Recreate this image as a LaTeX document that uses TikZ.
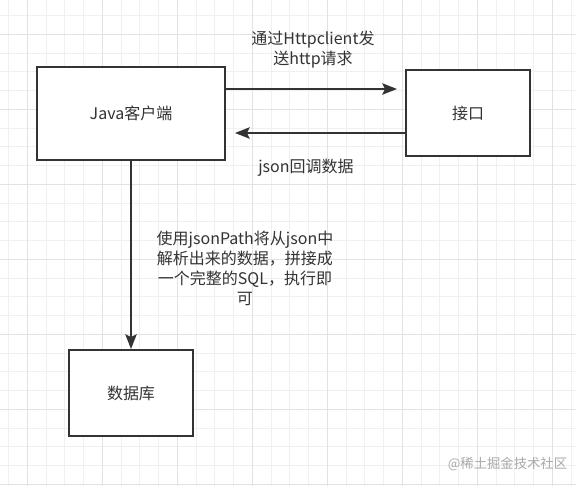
\documentclass[tikz,border=0pt]{standalone}
\usepackage{fontspec}
\setmainfont{Noto Sans CJK SC}
\usetikzlibrary{arrows.meta,calc}
\definecolor{ink}{HTML}{333333}
\definecolor{gridminor}{HTML}{F0F0F0}
\definecolor{gridmajor}{HTML}{E2E2E2}
\definecolor{wm}{HTML}{A8A8A8}
\tikzset{
  box/.style={draw=ink, line width=1.5pt, fill=white, rectangle, inner sep=0pt,
    font=\fontsize{12pt}{15pt}\selectfont, text=ink},
  conn/.style={draw=ink, line width=1.5pt, -{Stealth[length=11pt,width=8.5pt,inset=2pt]}},
  lbl/.style={font=\fontsize{12pt}{15pt}\selectfont, text=ink, align=center, inner sep=0pt},
}
\begin{document}
\begin{tikzpicture}[x=0.75pt,y=-0.75pt]
\useasboundingbox (0,0) rectangle (576,486);
\fill[white] (0,0) rectangle (576,486);
% grid
\foreach \k in {0,...,30} {
  \draw[gridminor, line width=0.75pt] ({8.55+18.75*\k},0) -- ({8.55+18.75*\k},486);
}
\foreach \k in {0,...,25} {
  \draw[gridminor, line width=0.75pt] (0,{15.55+18.75*\k}) -- (576,{15.55+18.75*\k});
}
\foreach \k in {0,...,7} {
  \draw[gridmajor, line width=0.75pt] ({27.3+75*\k},0) -- ({27.3+75*\k},486);
}
\foreach \k in {0,...,6} {
  \draw[gridmajor, line width=0.75pt] (0,{34.3+75*\k}) -- (576,{34.3+75*\k});
}
% boxes
\node[box, minimum width=141pt, minimum height=70pt] (java) at (131,113.5) {Java客户端};
\node[box, minimum width=93pt, minimum height=64.5pt] (api) at (468,113) {接口};
\node[box, minimum width=93pt, minimum height=64.5pt] (db) at (131,393) {数据库};
% helper coordinates
\coordinate (up) at (0,89);
\coordinate (lo) at (0,133);
% connectors
\draw[conn] (java.east |- up) -- ($(api.west |- up)+(-8,0)$);
\draw[conn] (api.west |- lo) -- ($(java.east |- lo)+(9,0)$);
\draw[conn] (java.south) -- (db.north);
% labels
\node[lbl] (l1) at (313,50) {通过Httpclient发\\送http请求};
\node[lbl] (l2) at (306,168) {json回调数据};
\node[lbl] (l3) at (245,268) {使用jsonPath将从json中\\解析出来的数据，拼接成\\一个完整的SQL，执行即\\可};
\node[font=\fontsize{10pt}{12pt}\selectfont, text=wm, inner sep=0pt] (wmk) at (507.5,464) {@稀土掘金技术社区};
\end{tikzpicture}
\end{document}
